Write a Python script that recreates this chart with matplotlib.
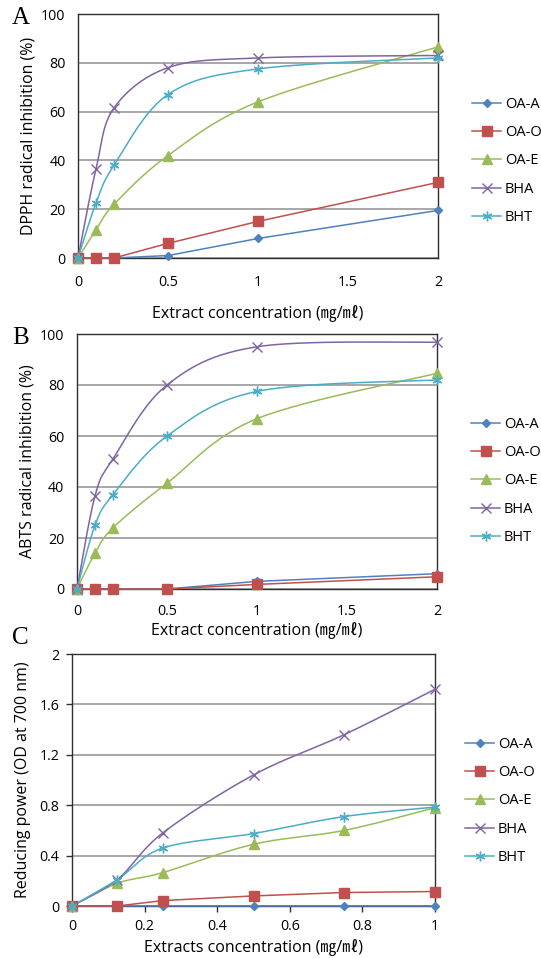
import numpy as np
import matplotlib
matplotlib.use('Agg')
import matplotlib.pyplot as plt

plt.rcParams['font.family'] = ['Open Sans', 'Noto Sans CJK TC', 'DejaVu Sans']

# data
series = ['OA-A', 'OA-O', 'OA-E', 'BHA', 'BHT']

conc_ab = [0, 0.1, 0.2, 0.5, 1, 2]
dpph = {
    'OA-A': [0, 0, 0, 1, 8, 19.5],
    'OA-O': [0, 0, 0, 6, 15, 31],
    'OA-E': [0, 11.5, 22, 42, 64, 86.5],
    'BHA': [0, 36.5, 61.5, 78, 82, 83],
    'BHT': [0, 22.5, 38, 67, 77.5, 82],
}
abts = {
    'OA-A': [0, 0, 0, 0, 3, 6],
    'OA-O': [0, 0, 0, 0, 1.8, 4.8],
    'OA-E': [0, 14, 24, 41.5, 66.8, 84.6],
    'BHA': [0, 36.5, 51, 80, 95, 96.8],
    'BHT': [0, 25, 37, 60, 77.5, 82],
}

conc_c = [0, 0.125, 0.25, 0.5, 0.75, 1]
reducing = {
    'OA-A': [0, 0, 0, 0, 0, 0],
    'OA-O': [0, 0, 0.043, 0.08, 0.107, 0.115],
    'OA-E': [0, 0.18, 0.265, 0.49, 0.6, 0.78],
    'BHA': [0, 0.21, 0.58, 1.04, 1.36, 1.72],
    'BHT': [0, 0.21, 0.46, 0.575, 0.71, 0.785],
}

colors = {'OA-A': '#4F81BD', 'OA-O': '#C0504D', 'OA-E': '#9BBB59',
          'BHA': '#8064A2', 'BHT': '#4BACC6'}
markers = {'OA-A': 'D', 'OA-O': 's', 'OA-E': '^', 'BHA': 'x', 'BHT': (6, 2, 0)}
msizes = {'OA-A': 4.5, 'OA-O': 6.5, 'OA-E': 6.5, 'BHA': 7, 'BHT': 7}
smooth = {'OA-A': False, 'OA-O': False, 'OA-E': True, 'BHA': True, 'BHT': True}


def smooth_curve(x, y, n=30):
    # excel-like smoothed line (catmull-rom bezier)
    x = np.asarray(x, float)
    y = np.asarray(y, float)
    pts = np.column_stack([x, y])
    out = []
    for i in range(len(pts) - 1):
        p0 = pts[max(i - 1, 0)]
        p1 = pts[i]
        p2 = pts[i + 1]
        p3 = pts[min(i + 2, len(pts) - 1)]
        c1 = p1 + (p2 - p0) / 6
        c2 = p2 - (p3 - p1) / 6
        t = np.linspace(0, 1, n)[:, None]
        seg = ((1 - t) ** 3) * p1 + 3 * ((1 - t) ** 2) * t * c1 + 3 * (1 - t) * t ** 2 * c2 + t ** 3 * p2
        out.append(seg)
    out = np.vstack(out)
    return out[:, 0], out[:, 1]


fig = plt.figure(figsize=(5.41, 9.58), dpi=100)
W, H = 541, 958


def make_axes(left, right, top, bottom):
    return fig.add_axes([left / W, 1 - bottom / H, (right - left) / W, (bottom - top) / H])


def draw(ax, xs, data, legend_x, legend_y):
    handles = []
    for s in series:
        ys = data[s]
        if smooth[s]:
            sx, sy = smooth_curve(xs, ys)
        else:
            sx, sy = xs, ys
        ax.plot(sx, sy, color=colors[s], lw=1.1, zorder=3, clip_on=False)
        ax.plot(xs, ys, linestyle='none', marker=markers[s], ms=msizes[s],
                color=colors[s], mec=colors[s], mew=1.0, zorder=4, clip_on=False)
        h, = ax.plot([], [], color=colors[s], lw=1.1, marker=markers[s],
                     ms=msizes[s], mec=colors[s], mew=1.0)
        handles.append(h)
    ax.legend(handles, series, loc='center left',
              bbox_to_anchor=(legend_x / W, 1 - legend_y / H),
              bbox_transform=fig.transFigure, frameon=False, fontsize=10.5,
              borderpad=0, labelspacing=0.9, handlelength=1.95, handletextpad=0.3)
    ax.yaxis.grid(True, color='#A0A0A0', lw=1.3)
    ax.set_axisbelow(True)
    for sp in ax.spines.values():
        sp.set_color('#303030')
        sp.set_linewidth(1.0)


lab_font = 11.5
tick_font = 10.3

# Panel A
axA = make_axes(78, 438, 14, 258)
draw(axA, conc_ab, dpph, 465, 161)
axA.set_xlim(0, 2)
axA.set_ylim(0, 100)
axA.set_xticks([0, 0.5, 1, 1.5, 2])
axA.set_xticklabels(['0', '0.5', '1', '1.5', '2'])
axA.set_yticks([0, 20, 40, 60, 80, 100])
axA.tick_params(length=0, labelsize=tick_font, pad=9)
axA.tick_params(axis='x', pad=12)
axA.set_xlabel('Extract concentration (㎎/㎖)', fontsize=lab_font, labelpad=10)
axA.set_ylabel('DPPH radical inhibition (%)', fontsize=lab_font, labelpad=3)
fig.text(12 / W, 1 - 18 / H, 'A', family='Liberation Serif', fontsize=18, va='center', ha='left')

# Panel B
axB = make_axes(77, 437, 334, 589)
draw(axB, conc_ab, abts, 464, 481)
axB.set_xlim(0, 2)
axB.set_ylim(0, 100)
axB.set_xticks([0, 0.5, 1, 1.5, 2])
axB.set_xticklabels(['0', '0.5', '1', '1.5', '2'])
axB.set_yticks([0, 20, 40, 60, 80, 100])
axB.tick_params(length=0, labelsize=tick_font, pad=9)
axB.tick_params(axis='x', pad=11)
axB.set_xlabel('Extract concentration (㎎/㎖)', fontsize=lab_font, labelpad=1)
axB.set_ylabel('ABTS radical inhibition (%)', fontsize=lab_font, labelpad=3)
fig.text(12 / W, 1 - 338 / H, 'B', family='Liberation Serif', fontsize=18, va='center', ha='left')

# Panel C
axC = make_axes(72, 435, 654, 906)
draw(axC, conc_c, reducing, 458, 801)
axC.set_xlim(0, 1)
axC.set_ylim(0, 2)
axC.set_xticks([0, 0.2, 0.4, 0.6, 0.8, 1])
axC.set_xticklabels(['0', '0.2', '0.4', '0.6', '0.8', '1'])
axC.set_yticks([0, 0.4, 0.8, 1.2, 1.6, 2])
axC.set_yticklabels(['0', '0.4', '0.8', '1.2', '1.6', '2'])
axC.tick_params(length=4, width=1, color='#303030', labelsize=tick_font, pad=5)
axC.set_xlabel('Extracts concentration (㎎/㎖)', fontsize=lab_font, labelpad=3)
axC.set_ylabel('Reducing power (OD at 700 nm)', fontsize=lab_font, labelpad=6)
fig.text(12 / W, 1 - 638 / H, 'C', family='Liberation Serif', fontsize=18, va='center', ha='left')

fig.savefig('out.png', dpi=100)
